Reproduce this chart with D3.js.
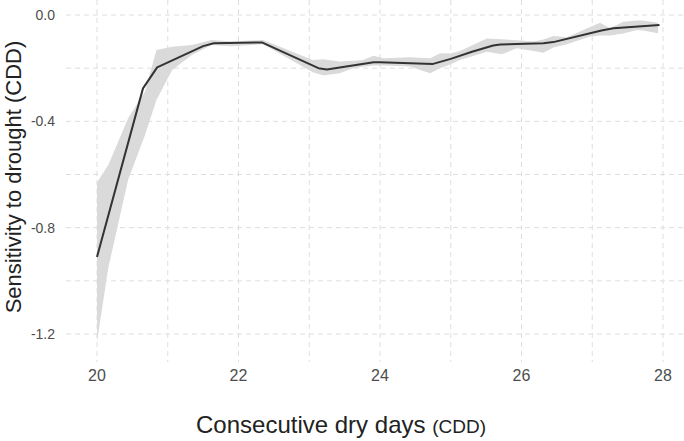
<!DOCTYPE html>
<html>
<head>
<meta charset="utf-8">
<script src="https://cdn.jsdelivr.net/npm/d3@7"></script>
<style>
  body { margin: 0; background: #fff; }
  svg { display: block; font-family: "Liberation Sans", Arial, sans-serif; }
</style>
</head>
<body>
<svg id="chart" width="684" height="441"></svg>
<script>
// fitted line
const lineX = [20.0, 20.65, 20.85, 21.5, 21.65, 22.33, 23.13, 23.25, 23.91, 24.0, 24.75, 25.0, 25.3, 25.6, 25.7, 26.31, 26.45, 27.13, 27.3, 27.95];
const lineY = [-0.91, -0.276, -0.197, -0.117, -0.106, -0.103, -0.200, -0.205, -0.178, -0.178, -0.184, -0.165, -0.138, -0.115, -0.111, -0.106, -0.102, -0.058, -0.050, -0.038];

// confidence band
const bandX = [20.0, 20.16, 20.44, 20.68, 20.84, 21.06, 21.34, 21.62, 21.9, 22.35, 23.05, 23.2, 23.43, 23.62, 23.76, 23.91, 24.05, 24.42, 24.71, 24.85, 25.0, 25.13, 25.51, 25.72, 25.93, 26.17, 26.31, 26.45, 26.64, 26.97, 27.11, 27.25, 27.44, 27.63, 27.72, 27.93];
const bandLow = [-1.23, -0.95, -0.62, -0.45, -0.32, -0.208, -0.15, -0.113, -0.118, -0.110, -0.215, -0.228, -0.219, -0.200, -0.195, -0.19, -0.19, -0.194, -0.219, -0.20, -0.185, -0.169, -0.138, -0.148, -0.125, -0.135, -0.142, -0.122, -0.11, -0.081, -0.077, -0.077, -0.07, -0.056, -0.058, -0.069];
const bandHigh = [-0.63, -0.564, -0.388, -0.288, -0.132, -0.119, -0.113, -0.094, -0.100, -0.094, -0.169, -0.166, -0.175, -0.172, -0.169, -0.153, -0.163, -0.159, -0.163, -0.144, -0.145, -0.135, -0.088, -0.091, -0.095, -0.100, -0.092, -0.079, -0.084, -0.045, -0.029, -0.050, -0.025, -0.021, -0.021, -0.029];

const xTicks = [20, 22, 24, 26, 28];
const xGrid = [20, 21, 22, 23, 24, 25, 26, 27, 28];
const yTicks = [0, -0.4, -0.8, -1.2];
const yGrid = [0, -0.2, -0.4, -0.6, -0.8, -1.0, -1.2];

const svg = d3.select("#chart");
const panel = {left: 66, right: 684, top: 0, bottom: 362};

let x = d3.scaleLinear().domain([20, 28]).range([97, 663]);
let y = d3.scaleLinear().domain([-1.2, 0]).range([334, 15]);

// grid
svg.append("g").selectAll("line")
  .data(xGrid).enter().append("line")
    .attr("x1", d => x(d)).attr("x2", d => x(d))
    .attr("y1", panel.top).attr("y2", panel.bottom)
    .attr("stroke", "#dedede").attr("stroke-width", 1)
    .attr("stroke-dasharray", "5,4");
svg.append("g").selectAll("line")
  .data(yGrid).enter().append("line")
    .attr("x1", panel.left).attr("x2", panel.right)
    .attr("y1", d => y(d)).attr("y2", d => y(d))
    .attr("stroke", "#dedede").attr("stroke-width", 1)
    .attr("stroke-dasharray", "5,4");

// band
let bandData = bandX.map((d, i) => ({x: d, lo: bandLow[i], hi: bandHigh[i]}));
svg.append("path")
  .datum(bandData)
  .attr("fill", "#dadada")
  .attr("d", d3.area()
    .x(d => x(d.x))
    .y0(d => y(d.lo))
    .y1(d => y(d.hi)));

// line
let lineData = lineX.map((d, i) => ({x: d, y: lineY[i]}));
svg.append("path")
  .datum(lineData)
  .attr("fill", "none")
  .attr("stroke", "#333333")
  .attr("stroke-width", 2)
  .attr("stroke-linejoin", "round")
  .attr("d", d3.line().x(d => x(d.x)).y(d => y(d.y)));

// tick labels
svg.append("g").selectAll("text")
  .data(xTicks).enter().append("text")
    .attr("x", d => x(d)).attr("y", 381)
    .attr("text-anchor", "middle")
    .style("font-size", "16px")
    .attr("fill", "#4d4d4d")
    .text(d => d);
svg.append("g").selectAll("text")
  .data(yTicks).enter().append("text")
    .attr("x", 55).attr("y", d => y(d))
    .attr("dy", "0.35em")
    .attr("text-anchor", "end")
    .style("font-size", "14px")
    .attr("fill", "#4d4d4d")
    .text(d => d3.format(".1f")(d).replace("−", "-"));

// axis titles
let xt = svg.append("text")
  .attr("x", 341).attr("y", 433)
  .attr("text-anchor", "middle")
  .attr("fill", "#222")
  .style("font-size", "24px");
xt.append("tspan").text("Consecutive dry days ");
xt.append("tspan").style("font-size", "19px").text("(CDD)");

svg.append("text")
  .attr("transform", "translate(21,177) rotate(-90)")
  .attr("text-anchor", "middle")
  .attr("fill", "#222")
  .style("font-size", "22px")
  .text("Sensitivity to drought (CDD)");
</script>
</body>
</html>
